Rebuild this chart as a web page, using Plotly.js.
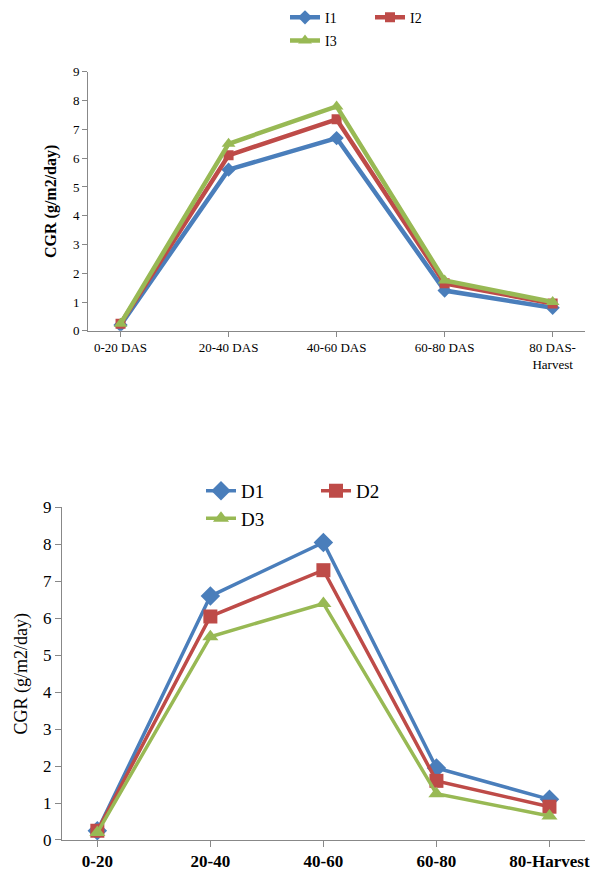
<!DOCTYPE html>
<html><head><script src="https://cdn.plot.ly/plotly-3.0.1.min.js"></script>
<style>body{margin:0}</style></head><body><div id="c" style="width:600px;height:887px"></div>
<script>
const catsTop = ["0-20 DAS","20-40 DAS","40-60 DAS","60-80 DAS","80 DAS-<br>Harvest"];
const I1 = [0.2,5.6,6.7,1.4,0.8];
const I2 = [0.25,6.1,7.35,1.65,0.95];
const I3 = [0.25,6.5,7.8,1.75,1.0];
const catsBot = ["0-20","20-40","40-60","60-80","80-Harvest"];
const D1 = [0.25,6.6,8.05,1.95,1.1];
const D2 = [0.25,6.05,7.3,1.6,0.9];
const D3 = [0.2,5.5,6.4,1.25,0.65];
const blue="#4a7ebb", red="#be4b48", green="#98b954";
const FF='Liberation Serif, Times New Roman, DejaVu Serif, serif';
function tr(x,y,name,col,sym,ax,lg,ms){return {x:x,y:y,name:name,type:'scatter',mode:'lines+markers',
 line:{color:col,width:ax==='x'?4.5:3.5},marker:{symbol:sym,size:ms,color:col},xaxis:ax,yaxis:ax==='x'?'y':'y2',legend:lg};}
const data=[
 tr(catsTop,I1,'I1',blue,'diamond','x','legend',11),
 tr(catsTop,I2,'I2',red,'square','x','legend',10),
 tr(catsTop,I3,'I3',green,'triangle-up','x','legend3',12),
 tr(catsBot,D1,'D1',blue,'diamond','x2','legend2',15),
 tr(catsBot,D2,'D2',red,'square','x2','legend2',14),
 tr(catsBot,D3,'D3',green,'triangle-up','x2','legend4',14)
];
const lt={orientation:'h',xanchor:'left',yanchor:'top',xref:'paper',yref:'paper',bgcolor:'rgba(0,0,0,0)'};
const f1={family:FF,size:14,color:'#000'}, f2={family:FF,size:19,color:'#000'};
const layout={width:600,height:887,margin:{l:0,r:0,t:0,b:0},showlegend:true,paper_bgcolor:'#fff',plot_bgcolor:'#fff',
 font:{family:FF,color:'#000'},
 xaxis:{domain:[0.147,0.975],anchor:'y',showline:true,linecolor:'#888',ticks:'outside',tickcolor:'#888',ticklen:5,showgrid:false,tickfont:{family:FF,size:13,color:'#000'}},
 yaxis:{domain:[0.627,0.919],anchor:'x',range:[0,9],dtick:1,showline:true,linecolor:'#888',ticks:'outside',tickcolor:'#888',ticklen:5,showgrid:false,zeroline:false,tickfont:{family:FF,size:13,color:'#000'},
   title:{text:'<b>CGR (g/m2/day)</b>',font:{family:FF,size:16,color:'#000'},standoff:12}},
 xaxis2:{domain:[0.103,0.975],anchor:'y2',showline:true,linecolor:'#888',ticks:'outside',tickcolor:'#888',ticklen:6,showgrid:false,tickfont:{family:FF,size:17,color:'#000',weight:'bold'}},
 yaxis2:{domain:[0.053,0.428],anchor:'x2',range:[0,9],dtick:1,showline:true,linecolor:'#888',ticks:'outside',tickcolor:'#888',ticklen:6,showgrid:false,zeroline:false,tickfont:{family:FF,size:17,color:'#000'},
   title:{text:'CGR (g/m2/day)',font:{family:FF,size:18,color:'#000'},standoff:10}},
 legend:Object.assign({},lt,{x:0.475,y:0.998,font:f1,entrywidth:40,entrywidthmode:'pixels'}),
 legend3:Object.assign({},lt,{x:0.475,y:0.972,font:f1}),
 legend2:Object.assign({},lt,{x:0.335,y:0.468,font:f2,entrywidth:70,entrywidthmode:'pixels'}),
 legend4:Object.assign({},lt,{x:0.335,y:0.437,font:f2})
};
Plotly.newPlot('c',data,layout,{displayModeBar:false});
</script></body></html>
